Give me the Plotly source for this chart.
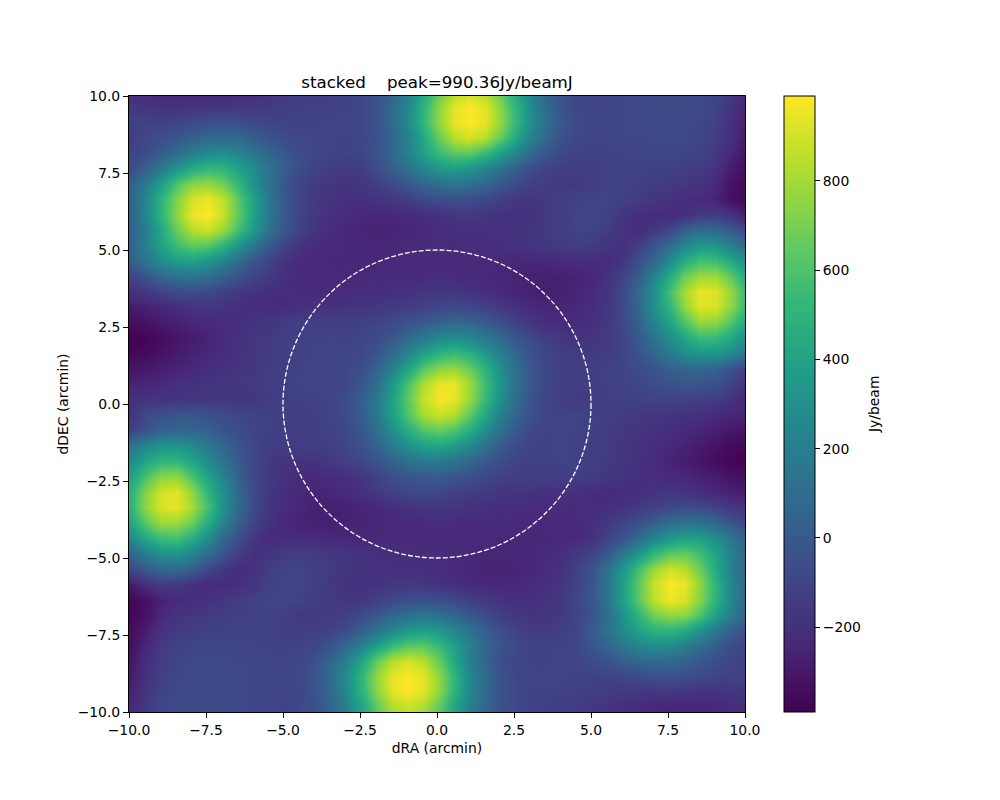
import plotly.graph_objects as go

d_ra = [-9.95,-9.45,-8.95,-8.45,-7.95,-7.45,-6.95,-6.45,-5.95,-5.45,-4.95,-4.45,-3.95,-3.45,-2.95,-2.45,-1.95,-1.45,-0.95,-0.45,0.05,0.55,1.05,1.55,2.05,2.55,3.05,3.55,4.05,4.55,5.05,5.55,6.05,6.55,7.05,7.55,8.05,8.55,9.05,9.55,10.05]
d_dec = [10.15,9.65,9.15,8.65,8.15,7.65,7.15,6.65,6.15,5.65,5.15,4.65,4.15,3.65,3.15,2.65,2.15,1.65,1.15,0.65,0.15,-0.35,-0.85,-1.35,-1.85,-2.35,-2.85,-3.35,-3.85,-4.35,-4.85,-5.35,-5.85,-6.35,-6.85,-7.35,-7.85,-8.35,-8.85,-9.35,-9.85]

flux = [
[-200,-220,-235,-245,-250,-245,-240,-225,-205,-185,-165,-150,-140,-130,-118,-92,-40,55,215,415,650,810,880,810,650,415,215,55,-40,-92,-112,-105,-95,-85,-75,-70,-70,-80,-100,-150,-230],
[-165,-175,-190,-190,-175,-170,-170,-165,-160,-145,-135,-125,-120,-118,-114,-95,-35,80,260,500,750,930,985,930,750,500,260,80,-35,-95,-110,-105,-95,-85,-75,-70,-70,-85,-115,-180,-260],
[-125,-115,-120,-110,-85,-60,-50,-60,-85,-105,-115,-115,-115,-110,-110,-95,-35,90,270,510,760,940,990,945,770,520,280,100,-20,-85,-100,-100,-95,-85,-80,-75,-80,-95,-125,-195,-280],
[-130,-95,-60,-20,30,80,85,65,15,-35,-70,-95,-105,-110,-115,-100,-50,50,215,430,665,840,905,835,665,430,215,60,-40,-95,-105,-105,-100,-95,-90,-85,-90,-105,-135,-210,-300],
[-110,-65,5,100,195,260,285,240,150,60,-15,-65,-95,-110,-115,-100,-30,70,215,390,540,640,640,540,390,220,80,-25,-85,-115,-120,-115,-110,-105,-100,-100,-105,-120,-155,-240,-330],
[-70,30,165,315,445,515,495,400,270,130,15,-70,-115,-140,-155,-140,-60,20,135,235,340,380,340,235,135,20,-70,-115,-135,-135,-130,-125,-120,-120,-120,-125,-135,-150,-190,-280,-350],
[30,185,385,605,745,765,695,520,305,115,-25,-110,-155,-175,-185,-165,-135,-75,-15,60,110,135,110,60,-15,-75,-125,-150,-160,-160,-130,-120,-120,-125,-145,-155,-170,-185,-230,-320,-370],
[55,240,490,730,905,955,855,640,385,155,-10,-100,-155,-180,-200,-200,-185,-160,-130,-90,-60,-45,-60,-90,-130,-165,-170,-150,-130,-120,-105,-105,-125,-145,-170,-190,-205,-225,-260,-335,-365],
[45,245,495,755,945,990,875,650,390,155,-15,-115,-170,-200,-220,-230,-235,-235,-225,-210,-195,-170,-165,-170,-190,-195,-190,-165,-130,-105,-95,-125,-170,-205,-215,-225,-200,-155,-150,-190,-290],
[25,205,435,675,835,885,780,580,340,125,-25,-125,-185,-215,-240,-250,-255,-255,-245,-230,-215,-205,-195,-195,-195,-190,-170,-145,-125,-110,-110,-140,-185,-215,-165,-95,30,85,75,-5,-85],
[50,215,400,560,650,630,510,330,150,0,-115,-185,-215,-230,-240,-245,-245,-240,-230,-220,-215,-215,-210,-205,-200,-190,-180,-165,-150,-140,-150,-180,-200,-130,-30,100,250,330,310,200,60],
[20,145,275,370,395,330,220,90,-35,-120,-185,-225,-235,-240,-240,-240,-240,-235,-230,-225,-225,-230,-230,-230,-235,-240,-240,-235,-225,-215,-215,-225,-170,-60,70,280,465,575,555,440,270],
[-105,-25,65,125,135,100,35,-45,-105,-155,-200,-225,-235,-235,-235,-230,-225,-225,-225,-220,-215,-220,-225,-235,-245,-255,-260,-265,-265,-260,-240,-190,-115,20,225,455,680,780,780,640,420],
[-195,-165,-120,-80,-70,-90,-130,-160,-190,-205,-215,-220,-220,-220,-215,-210,-205,-200,-190,-175,-170,-175,-190,-210,-230,-250,-265,-270,-265,-245,-215,-175,-85,80,300,580,805,950,920,770,515],
[-290,-265,-240,-215,-185,-170,-180,-200,-215,-220,-210,-200,-195,-190,-185,-180,-170,-155,-140,-120,-95,-80,-90,-115,-155,-195,-225,-245,-250,-235,-210,-170,-80,75,290,510,770,925,905,755,505],
[-335,-320,-290,-265,-240,-225,-215,-200,-185,-170,-150,-135,-130,-130,-130,-125,-110,-85,-40,-10,35,70,55,-5,-65,-125,-175,-215,-225,-215,-195,-160,-90,45,230,410,610,770,755,610,410],
[-390,-375,-345,-310,-280,-255,-225,-195,-170,-150,-130,-120,-115,-110,-115,-100,-65,-15,80,170,250,285,250,170,80,-20,-85,-130,-165,-190,-180,-150,-100,0,130,280,430,540,530,430,280],
[-370,-350,-320,-290,-260,-235,-210,-190,-170,-150,-130,-120,-110,-105,-105,-85,-30,80,230,380,490,530,480,350,200,60,-50,-105,-135,-145,-150,-140,-100,-30,65,175,280,335,330,265,160],
[-320,-300,-275,-250,-230,-210,-190,-175,-160,-145,-125,-115,-105,-100,-95,-50,50,215,420,625,750,780,680,505,290,105,-20,-95,-130,-130,-130,-125,-110,-70,-35,20,55,60,35,-50,-140],
[-255,-245,-225,-205,-190,-180,-170,-160,-150,-135,-120,-110,-105,-110,-100,-10,110,345,595,820,950,950,790,565,330,115,-20,-90,-125,-135,-130,-125,-115,-95,-70,-40,-25,-25,-50,-110,-210],
[-200,-190,-185,-180,-175,-170,-165,-170,-165,-150,-135,-125,-120,-105,-60,25,170,385,640,860,975,945,780,535,295,95,-35,-105,-140,-150,-145,-130,-125,-120,-115,-110,-125,-130,-140,-185,-240],
[-190,-80,-50,-25,-25,-40,-70,-95,-115,-125,-130,-135,-125,-110,-75,20,170,380,610,800,880,825,650,425,210,45,-50,-110,-105,-110,-120,-135,-150,-160,-170,-180,-190,-205,-225,-245,-255],
[-130,-50,35,60,55,20,-35,-70,-110,-125,-130,-130,-130,-115,-85,-10,115,285,470,610,665,610,470,285,115,-10,-85,-115,-105,-115,-130,-145,-160,-175,-190,-210,-230,-250,-275,-300,-320],
[150,250,315,320,265,175,65,-30,-100,-140,-150,-145,-135,-130,-100,-45,50,170,295,385,410,355,250,120,5,-70,-115,-115,-110,-120,-130,-150,-170,-190,-210,-235,-260,-290,-320,-350,-370],
[265,415,510,520,415,270,130,0,-100,-150,-180,-190,-185,-160,-130,-90,-30,40,115,165,175,140,70,-5,-65,-110,-125,-115,-110,-115,-130,-150,-170,-195,-225,-255,-280,-310,-345,-375,-390],
[395,590,730,745,590,395,220,40,-90,-160,-195,-215,-225,-215,-195,-170,-115,-65,-25,0,5,-20,-50,-90,-120,-140,-140,-135,-145,-135,-150,-170,-185,-200,-215,-225,-240,-265,-290,-320,-335],
[490,740,900,925,760,505,290,75,-80,-170,-210,-235,-250,-245,-225,-195,-155,-115,-90,-80,-95,-120,-140,-155,-170,-180,-185,-190,-195,-200,-210,-220,-215,-200,-180,-170,-185,-215,-240,-265,-290],
[510,765,915,945,800,575,300,80,-85,-175,-215,-245,-265,-270,-265,-250,-230,-210,-190,-175,-170,-175,-190,-200,-205,-210,-215,-220,-220,-215,-215,-205,-190,-160,-130,-90,-70,-80,-120,-165,-195],
[420,640,780,780,680,455,225,20,-115,-190,-240,-260,-265,-265,-260,-255,-245,-235,-225,-220,-215,-220,-225,-225,-225,-230,-235,-235,-225,-225,-200,-155,-105,-45,35,100,135,125,65,-25,-105],
[270,440,555,575,465,280,70,-60,-170,-225,-215,-215,-225,-235,-240,-240,-235,-230,-230,-230,-225,-225,-230,-235,-240,-240,-240,-240,-225,-225,-185,-120,-35,90,220,330,395,370,275,145,20],
[60,200,310,330,250,100,-30,-130,-200,-180,-150,-140,-150,-165,-180,-190,-200,-205,-210,-215,-215,-220,-230,-240,-245,-245,-240,-230,-205,-160,-115,0,150,330,510,630,650,560,400,215,50],
[-85,-5,70,85,30,-95,-165,-215,-185,-140,-110,-110,-125,-145,-170,-190,-195,-195,-195,-205,-215,-230,-245,-255,-255,-250,-240,-215,-185,-125,-25,125,340,580,780,885,835,675,435,205,25],
[-290,-190,-150,-155,-200,-225,-215,-205,-170,-125,-95,-105,-130,-165,-190,-195,-190,-170,-165,-170,-195,-210,-225,-235,-235,-230,-220,-200,-170,-115,-15,155,390,650,875,985,945,755,495,245,45],
[-365,-335,-260,-225,-205,-190,-170,-145,-125,-105,-100,-115,-140,-160,-165,-165,-130,-90,-60,-45,-60,-90,-130,-160,-185,-205,-200,-180,-155,-100,-10,155,385,640,855,955,905,730,490,240,55],
[-370,-320,-230,-185,-170,-155,-145,-125,-120,-120,-130,-160,-155,-150,-125,-75,-15,60,110,135,110,60,-15,-75,-135,-165,-180,-175,-155,-110,-25,115,305,520,695,765,745,605,385,185,30],
[-350,-280,-190,-150,-135,-125,-120,-120,-120,-125,-130,-135,-125,-115,-70,20,135,235,340,380,340,235,135,20,-60,-120,-145,-155,-130,-100,15,130,270,400,495,515,445,315,165,30,-70],
[-330,-240,-155,-120,-105,-100,-100,-105,-110,-115,-120,-110,-95,-25,80,220,390,540,640,640,540,390,215,70,-30,-90,-115,-115,-110,-95,-15,60,150,240,285,260,195,100,5,-65,-110],
[-300,-210,-135,-105,-90,-85,-90,-95,-100,-105,-105,-95,-40,60,215,430,665,835,905,840,665,430,215,50,-50,-100,-115,-115,-110,-105,-70,-35,15,60,85,80,30,-20,-60,-95,-130],
[-280,-195,-125,-95,-80,-75,-80,-85,-95,-100,-100,-85,-20,100,280,520,770,945,990,940,760,510,270,90,-35,-95,-110,-110,-110,-115,-115,-115,-105,-85,-60,-50,-60,-85,-110,-120,-115],
[-260,-180,-115,-85,-70,-70,-75,-85,-95,-105,-110,-95,-35,80,260,500,740,930,985,930,750,500,260,80,-35,-95,-114,-110,-120,-125,-135,-145,-160,-165,-170,-170,-175,-190,-190,-175,-165],
[-230,-150,-100,-80,-70,-70,-75,-85,-95,-105,-115,-92,-40,55,215,415,650,810,880,810,650,415,215,55,-40,-92,-118,-130,-135,-150,-165,-185,-205,-225,-240,-245,-250,-245,-235,-220,-200],
]
assert all(len(r) == len(d_ra) for r in flux) and len(flux) == len(d_dec)

color_min = -390
color_max = 990.36
ring_radius = 5
axis_ticks = [-10, -7.5, -5, -2.5, 0, 2.5, 5, 7.5, 10]
axis_labels = ["\u221210.0", "\u22127.5", "\u22125.0", "\u22122.5", "0.0", "2.5", "5.0", "7.5", "10.0"]
title_text = "stacked\u00a0\u00a0\u00a0\u00a0peak=990.36Jy/beamJ"
colorbar_label = "Jy/beam"
FONT = "DejaVu Sans"

fig = go.Figure(go.Heatmap(
    x=d_ra,
    y=d_dec[::-1],
    z=flux[::-1],
    zmin=color_min,
    zmax=color_max,
    zsmooth="best",
    colorscale="Viridis",
    hoverinfo="skip",
    colorbar=dict(
        x=1.0633, xanchor="left", xpad=0,
        y=0, yanchor="bottom", ypad=0,
        lenmode="fraction", len=1,
        thicknessmode="pixels", thickness=31,
        outlinecolor="black", outlinewidth=1,
        tick0=0, dtick=200,
        ticks="outside", ticklen=5, tickwidth=1, tickcolor="black",
        tickfont=dict(family=FONT, size=13.9, color="black"),
    ),
))

axis_common = dict(
    range=[-10, 10],
    tickmode="array", tickvals=axis_ticks, ticktext=axis_labels,
    ticks="outside", ticklen=5, tickwidth=1, tickcolor="black",
    showline=True, linecolor="black", linewidth=1, mirror=True,
    showgrid=False, zeroline=False,
    tickfont=dict(family=FONT, size=13.9, color="black"),
)

fig.update_layout(
    width=1000, height=800, autosize=False,
    margin=dict(l=129, r=255, t=96, b=88, pad=0),
    paper_bgcolor="white", plot_bgcolor="white",
    font=dict(family=FONT, color="black"),
    title=dict(
        text=title_text,
        font=dict(family=FONT, size=16.7, color="black"),
        x=0.437, xanchor="center", xref="container",
        y=0.897, yanchor="middle", yref="container",
    ),
    xaxis=dict(title=dict(text="dRA (arcmin)", font=dict(family=FONT, size=13.9, color="black"), standoff=6), **axis_common),
    yaxis=dict(title=dict(text="dDEC (arcmin)", font=dict(family=FONT, size=13.9, color="black"), standoff=5), **axis_common),
    annotations=[dict(
        text=colorbar_label, xref="paper", yref="paper", x=1.2094, y=0.5,
        xanchor="center", yanchor="middle", textangle=-90, showarrow=False,
        font=dict(family=FONT, size=13.9, color="black"),
    )],
    shapes=[dict(
        type="circle", xref="x", yref="y",
        x0=-ring_radius, x1=ring_radius, y0=-ring_radius, y1=ring_radius,
        line=dict(color="white", width=1.3, dash="5px,2px"),
    )],
)

fig.write_html("out.html", config={"displayModeBar": False},
               post_script="document.body.style.margin='0';document.body.style.overflow='hidden';")
